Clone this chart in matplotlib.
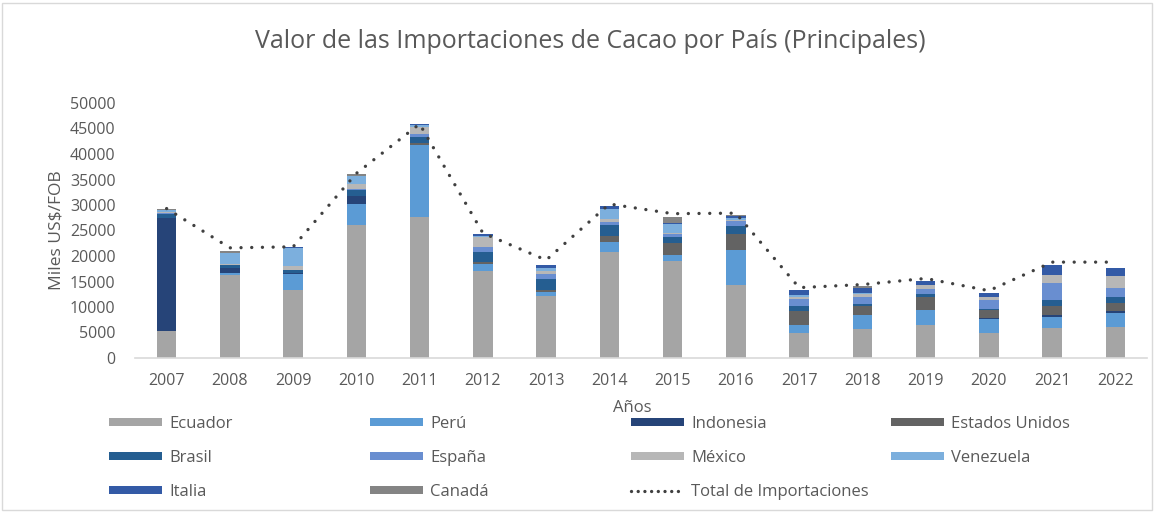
import matplotlib
matplotlib.use("Agg")
import matplotlib.pyplot as plt
import numpy as np
from matplotlib.lines import Line2D
from matplotlib.patches import Patch, Rectangle

plt.rcParams['font.family'] = ['Open Sans', 'DejaVu Sans']

# --- data (miles US$ FOB) ---
years = ['2007', '2008', '2009', '2010', '2011', '2012', '2013', '2014',
         '2015', '2016', '2017', '2018', '2019', '2020', '2021', '2022']

ecuador   = [5200, 16300, 13300, 26100, 27700, 17100, 12200, 20850, 19000, 14300, 5000, 5700, 6400, 5000, 5950, 6100]
peru      = [0, 400, 3100, 4100, 14100, 1300, 800, 1950, 1200, 6900, 1450, 2700, 3000, 2700, 2150, 2800]
indonesia = [22300, 900, 300, 1600, 0, 0, 0, 0, 0, 0, 0, 0, 0, 150, 250, 300]
eeuu      = [0, 0, 0, 0, 300, 400, 400, 1100, 2400, 3100, 2750, 1850, 2600, 1500, 1850, 1650]
brasil    = [700, 600, 600, 1100, 1300, 1900, 2000, 2200, 1200, 1600, 1000, 250, 500, 300, 1200, 1050]
espana    = [200, 0, 0, 300, 600, 1000, 1000, 500, 500, 950, 1300, 1400, 1000, 1650, 3250, 1900]
mexico    = [300, 300, 800, 1000, 1300, 2000, 600, 650, 300, 300, 400, 650, 800, 650, 1650, 2300]
venezuela = [400, 2100, 3500, 1500, 300, 300, 600, 1900, 1600, 300, 450, 250, 0, 0, 0, 0]
italia    = [0, 0, 200, 0, 200, 300, 700, 650, 200, 300, 1000, 1000, 850, 850, 1950, 1600]
canada    = [100, 300, 0, 300, 0, 0, 0, 0, 1300, 200, 0, 300, 0, 0, 0, 0]

total = [29300, 21600, 21800, 36200, 45900, 24500, 19200, 30200,
         28300, 28400, 13800, 14400, 15600, 13200, 18800, 18800]

countries = ['Ecuador', 'Perú', 'Indonesia', 'Estados Unidos', 'Brasil',
             'España', 'México', 'Venezuela', 'Italia', 'Canadá']
series = [ecuador, peru, indonesia, eeuu, brasil, espana, mexico, venezuela, italia, canada]
colors = ['#A5A5A5', '#5B9BD5', '#264478', '#636363', '#255E91',
          '#698ED0', '#B7B7B7', '#7CAFDD', '#335AA6', '#848484']

text_color = '#595959'

fig = plt.figure(figsize=(11.57, 5.12), dpi=100)
fig.patches.append(Rectangle((0.002, 0.004), 0.994, 0.99, transform=fig.transFigure,
                             fill=False, edgecolor='#d9d9d9', linewidth=1))

ax = fig.add_axes([135 / 1157, 1 - 358 / 512, 1012 / 1157, 255 / 512])

x = np.arange(len(years))
bottom = np.zeros(len(years))
for vals, col, name in zip(series, colors, countries):
    ax.bar(x, vals, bottom=bottom, width=0.31, color=col, label=name, linewidth=0)
    bottom += np.array(vals)

ax.plot(x, total, color='#404040', linewidth=2.4, linestyle=(0, (0.01, 3.2)),
        dash_capstyle='round', zorder=5)

ax.set_xlim(-0.5, len(years) - 0.5)
ax.set_ylim(0, 50000)
ax.set_yticks(np.arange(0, 50001, 5000))
ax.set_xticks(x)
ax.set_xticklabels(years)
ax.tick_params(axis='both', length=0, labelsize=11.5, colors=text_color)
ax.tick_params(axis='y', pad=14)
ax.tick_params(axis='x', pad=11)
for s in ['top', 'right', 'left']:
    ax.spines[s].set_visible(False)
ax.spines['bottom'].set_color('#d9d9d9')
ax.spines['bottom'].set_linewidth(1.2)

ax.set_ylabel('Miles US$/FOB', fontsize=12.5, color=text_color, labelpad=4)
fig.text(632 / 1157, 1 - 408 / 512, 'Años', ha='center', va='center', fontsize=12, color=text_color)
fig.text(590 / 1157, 1 - 42 / 512, 'Valor de las Importaciones de Cacao por País (Principales)',
         ha='center', va='center', fontsize=18, color=text_color)

# legend, laid out as four columns
handles = [Patch(facecolor=c, edgecolor='none') for c in colors]
line_handle = Line2D([], [], color='#404040', linewidth=2.4, linestyle=(0, (0.01, 2.0)),
                     dash_capstyle='round')
columns = [
    ([handles[0], handles[4], handles[8]], [countries[0], countries[4], countries[8]]),
    ([handles[1], handles[5], handles[9]], [countries[1], countries[5], countries[9]]),
    ([handles[2], handles[6], line_handle], [countries[2], countries[6], 'Total de Importaciones']),
    ([handles[3], handles[7]], [countries[3], countries[7]]),
]
col_x = [109, 370, 631, 891]
for (h, l), cx in zip(columns, col_x):
    fig.legend(h, l, loc='upper left', bbox_to_anchor=(cx / 1157, 1 - 416 / 512),
               frameon=False, fontsize=12, labelcolor=text_color, handlelength=3.2,
               handleheight=0.36, handletextpad=0.4, labelspacing=1.07,
               borderpad=0, borderaxespad=0)

fig.savefig('out.png', dpi=100)
